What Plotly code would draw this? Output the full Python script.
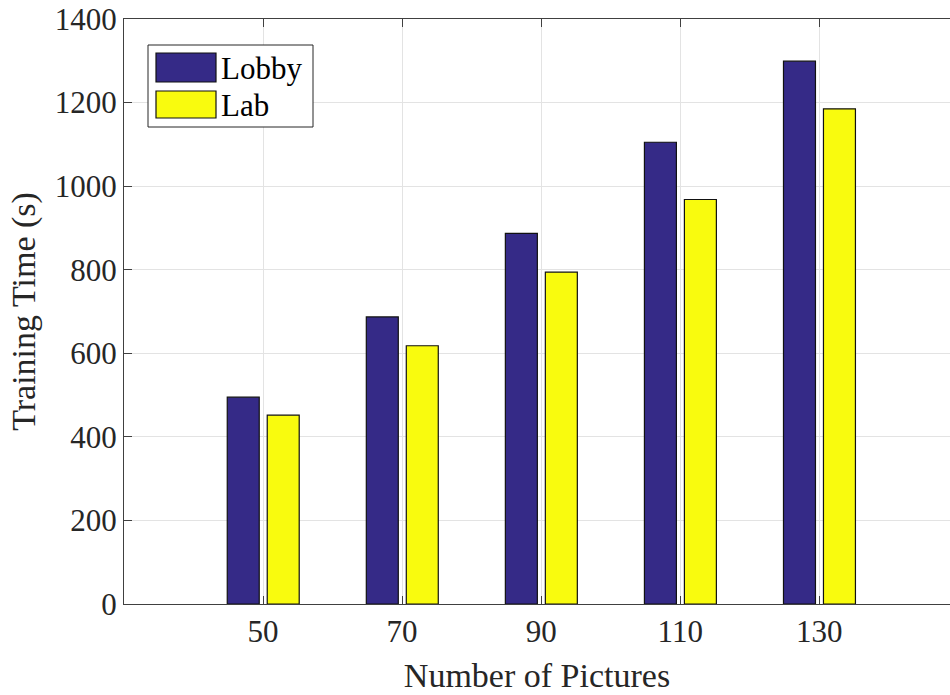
import plotly.graph_objects as go

categories = [50, 70, 90, 110, 130]
lobby = [495, 687, 887, 1105, 1299]
lab = [452, 618, 794, 968, 1185]
series_names = ["Lobby", "Lab"]
y_ticks = [0, 200, 400, 600, 800, 1000, 1200, 1400]

LOBBY_C = "#352A87"
LAB_C = "#F9FB0E"
FONT = "Liberation Serif"
TXT = "#262626"

fig = go.Figure()
fig.add_trace(go.Bar(x=categories, y=lobby, name=series_names[0], width=4.6, offset=-5.15,
                     marker=dict(color=LOBBY_C, line=dict(color="#111111", width=1.2)),
                     showlegend=False))
fig.add_trace(go.Bar(x=categories, y=lab, name=series_names[1], width=4.6, offset=0.6,
                     marker=dict(color=LAB_C, line=dict(color="#111111", width=1.2)),
                     showlegend=False))

# manual legend box (paper coords)
W, H, L, T = 826.0, 585.0, 124.0, 19.0
def px(x): return (x - L) / W
def py(y): return (604 - y) / H

shapes = [
    dict(type="rect", xref="paper", yref="paper", x0=px(148), x1=px(313), y0=py(127), y1=py(45),
         line=dict(color="#262626", width=1), fillcolor="white", layer="above"),
    dict(type="rect", xref="paper", yref="paper", x0=px(156), x1=px(216), y0=py(82), y1=py(53),
         line=dict(color="#111111", width=1.2), fillcolor=LOBBY_C, layer="above"),
    dict(type="rect", xref="paper", yref="paper", x0=px(156), x1=px(216), y0=py(118), y1=py(91),
         line=dict(color="#111111", width=1.2), fillcolor=LAB_C, layer="above"),
]
annotations = [
    dict(xref="paper", yref="paper", x=px(219), y=py(68), text=series_names[0], showarrow=False,
         xanchor="left", yanchor="middle", font=dict(family=FONT, size=31, color="#000")),
    dict(xref="paper", yref="paper", x=px(219), y=py(105), text=series_names[1], showarrow=False,
         xanchor="left", yanchor="middle", font=dict(family=FONT, size=31, color="#000")),
]

fig.update_layout(
    width=950, height=695,
    margin=dict(l=124, r=0, t=19, b=91),
    paper_bgcolor="white", plot_bgcolor="white",
    font=dict(family=FONT, size=31, color=TXT),
    shapes=shapes, annotations=annotations,
    xaxis=dict(range=[30, 148.8], tickvals=categories, ticktext=[str(c) for c in categories],
               showgrid=True, gridcolor="#E3E3E3", gridwidth=1,
               showline=True, linecolor="#404040", linewidth=1.2, mirror="ticks",
               ticks="inside", ticklen=8, tickcolor="#404040",
               title=dict(text="Number of Pictures", font=dict(family=FONT, size=34, color=TXT), standoff=14),
               zeroline=False),
    yaxis=dict(range=[0, 1400], tickvals=y_ticks,
               showgrid=True, gridcolor="#E3E3E3", gridwidth=1,
               showline=True, linecolor="#404040", linewidth=1.2, mirror=False,
               ticks="inside", ticklen=8, tickcolor="#404040",
               title=dict(text="Training Time (s)", font=dict(family=FONT, size=34, color=TXT), standoff=8),
               zeroline=False),
)

fig.write_html("out.html", config={"displayModeBar": False},
               post_script="document.body.style.margin='0';document.body.style.overflow='hidden';")
